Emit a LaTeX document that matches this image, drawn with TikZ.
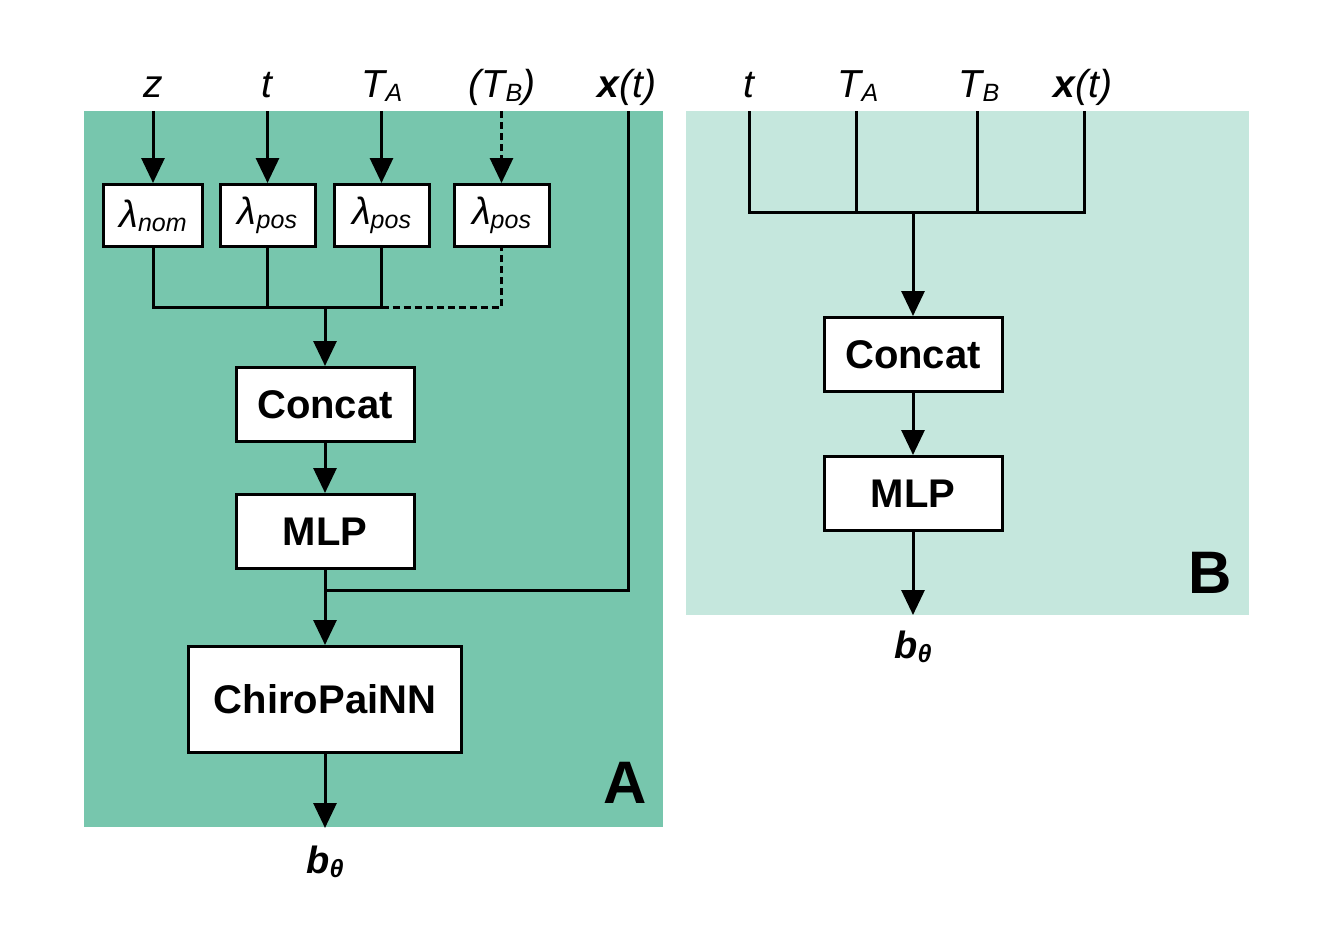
\documentclass[tikz,border=0pt]{standalone}
\usepackage{fontspec}
\setmainfont{Liberation Sans}
\usetikzlibrary{arrows.meta}
\definecolor{panelA}{RGB}{119,198,173}
\definecolor{panelB}{RGB}{197,231,221}
\newcommand{\mysub}[2][24]{\raisebox{-4pt}{\fontsize{#1}{#1}\selectfont #2}}
\begin{document}
\begin{tikzpicture}[x=1pt,y=-1pt,line width=3pt,
  arr/.style={-{Triangle[width=23pt,length=25pt]}},
  box/.style={draw,fill=white,line width=3pt,inner sep=0pt,minimum width=178pt,minimum height=74pt,
    font=\fontsize{40}{40}\selectfont\bfseries},
  lam/.style={draw,fill=white,line width=3pt,inner sep=0pt,minimum width=95pt,minimum height=62pt,
    font=\fontsize{38}{38}\selectfont\itshape},
  lbl/.style={inner sep=0pt,anchor=base,font=\fontsize{39}{40}\selectfont\itshape},
  tag/.style={inner sep=0pt,anchor=base,font=\fontsize{60}{60}\selectfont\bfseries},
]
\useasboundingbox (0,0) rectangle (1329,937);
\fill[panelA] (84,111) rectangle (663,827);
\fill[panelB] (686,111) rectangle (1249,615);

% ---------- Panel A ----------
\node[lbl] (lz) at (153,97) {z};
\node[lbl] (lt) at (267,97) {t};
\node[lbl] (lTA) at (382,97) {T\mysub[25]{A}};
\node[lbl] (lTB) at (502,97) {(T\mysub[25]{B})};
\node[lbl] (lx) at (627,97) {\bfseries x\mdseries(t)};

\coordinate (inz) at (153,111);
\coordinate (int) at (267.5,111);
\coordinate (inTA) at (381.5,111);
\coordinate (inTB) at (501.5,111);
\coordinate (inx) at (628,111);

\node[lam,minimum width=99pt] (lam1) at (153,215.5) {\raisebox{-2pt}{λ\mysub[25]{nom}}};
\node[lam] (lam2) at (267.5,215.5) {\raisebox{-2pt}{λ\mysub[25]{pos}}};
\node[lam] (lam3) at (381.5,215.5) {\raisebox{-2pt}{λ\mysub[25]{pos}}};
\node[lam] (lam4) at (501.5,215.5) {\raisebox{-2pt}{λ\mysub[25]{pos}}};

\draw[arr] (inz) -- (lam1.north);
\draw[arr] (int) -- (lam2.north);
\draw[arr] (inTA) -- (lam3.north);
\draw[arr,dash pattern=on 7pt off 4pt] (inTB) -- (lam4.north);

\coordinate (busA) at (325,307);
\node[box] (concatA) at (325,404.5) {Concat};
\node[box] (mlpA) at (325,531.5) {MLP};
\node[box,minimum width=273pt,minimum height=106pt] (chiro) at (325,699.5) {ChiroPaiNN};

\draw (lam1.south) -- (lam1.south |- busA) -- (lam3.south |- busA) -- (lam3.south);
\draw (lam2.south) -- (lam2.south |- busA);
\draw[dash pattern=on 7pt off 4pt] (lam3.south |- busA) -- (lam4.south |- busA) -- (lam4.south);
\draw[arr] (busA) -- (concatA.north);
\draw[arr] (concatA) -- (mlpA);

\coordinate (joinA) at (325,590);
\draw (inx) -- (inx |- joinA) -- (joinA);
\draw (mlpA.south) -- (joinA);
\draw[arr] (joinA) -- (chiro.north);

\coordinate (outA) at (325,828);
\draw[arr] (chiro.south) -- (outA);
\node[lbl,font=\fontsize{38}{38}\selectfont\bfseries\itshape] (bA) at (325,873) {b\mysub[25]{θ}};
\node[tag] (tagA) at (625,803) {A};

% ---------- Panel B ----------
\node[lbl] (mt) at (749,97) {t};
\node[lbl] (mTA) at (858,97) {T\mysub[25]{A}};
\node[lbl] (mTB) at (979,97) {T\mysub[25]{B}};
\node[lbl] (mx) at (1083,97) {\bfseries x\mdseries(t)};

\coordinate (jt) at (749,111);
\coordinate (jTA) at (856,111);
\coordinate (jTB) at (977,111);
\coordinate (jx) at (1084,111);
\coordinate (busB) at (913,212);

\node[box] (concatB) at (913,354.5) {Concat};
\node[box] (mlpB) at (913,493.5) {MLP};

\draw (jt) -- (jt |- busB) -- (jx |- busB) -- (jx);
\draw (jTA) -- (jTA |- busB);
\draw (jTB) -- (jTB |- busB);
\draw[arr] (busB) -- (concatB.north);
\draw[arr] (concatB) -- (mlpB);
\coordinate (outB) at (913,615);
\draw[arr] (mlpB.south) -- (outB);
\node[lbl,font=\fontsize{38}{38}\selectfont\bfseries\itshape] (bB) at (913,658) {b\mysub[25]{θ}};
\node[tag] (tagB) at (1210,593) {B};
\end{tikzpicture}
\end{document}
